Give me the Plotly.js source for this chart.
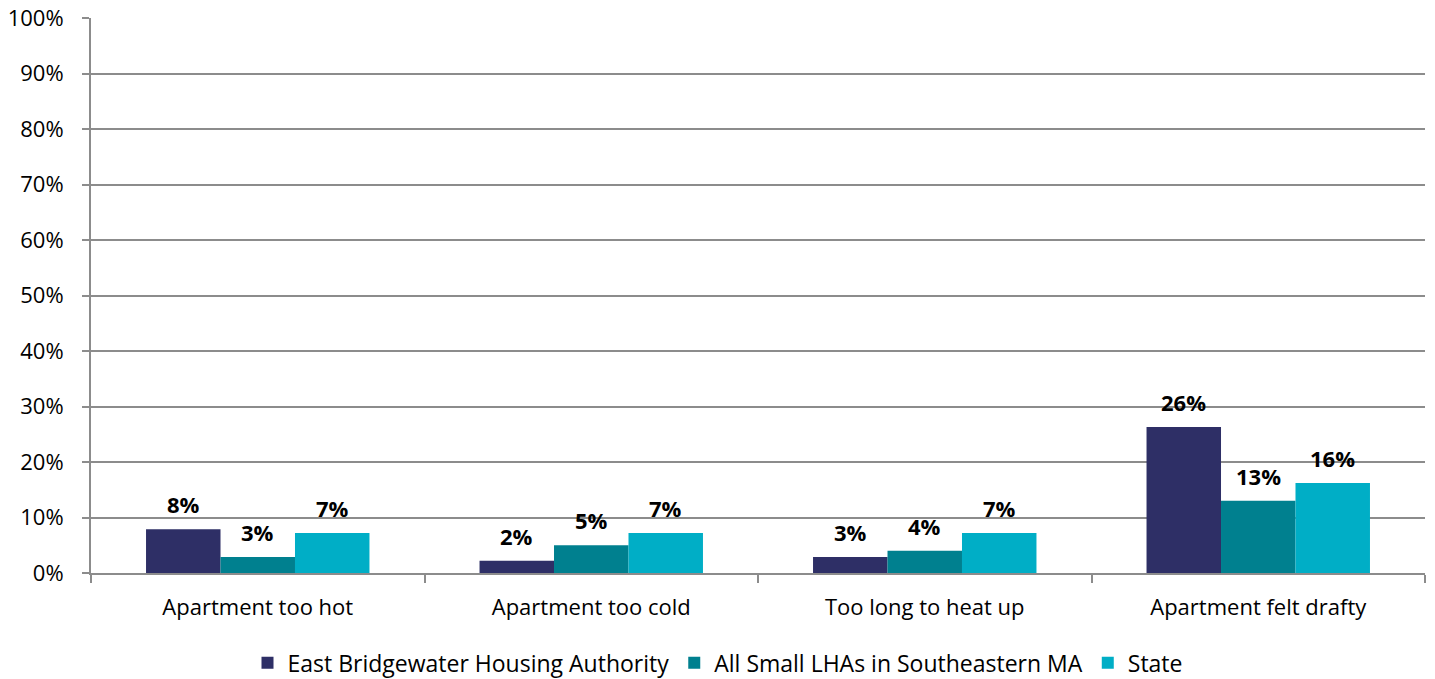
<!DOCTYPE html>
<html>
<head>
<meta charset="utf-8">
<script src="https://cdn.plot.ly/plotly-3.0.1.min.js"></script>
<style>html,body{margin:0;padding:0;background:#fff;}#chart{width:1435px;height:679px;}</style>
</head>
<body>
<div id="chart"></div>
<script>
const categories = ["Apartment too hot", "Apartment too cold", "Too long to heat up", "Apartment felt drafty"];
const seriesNames = ["East Bridgewater Housing Authority", "All Small LHAs in Southeastern MA", "State"];
const eastBridgewater = [0.079, 0.022, 0.029, 0.263];
const smallLHAs = [0.029, 0.050, 0.040, 0.130];
const state = [0.072, 0.072, 0.072, 0.162];
const colors = ["#2E2F66", "#00808F", "#00AEC6"];
const yTickVals = [0, 0.1, 0.2, 0.3, 0.4, 0.5, 0.6, 0.7, 0.8, 0.9, 1.0];

const seriesValues = [eastBridgewater, smallLHAs, state];
const font = "'Open Sans', sans-serif";
const bargap = 0.33;
const barW = (1 - bargap) / seriesValues.length;

const traces = seriesValues.map((vals, i) => ({
  type: "bar",
  name: seriesNames[i],
  x: categories,
  y: vals,
  marker: {color: colors[i]},
  hoverinfo: "x+y+name"
}));

const annotations = [];
seriesValues.forEach((vals, i) => {
  vals.forEach((v, j) => {
    annotations.push({
      x: j + (i - (seriesValues.length - 1) / 2) * barW,
      y: v, xref: "x", yref: "y",
      text: "<b>" + Math.round(v * 100) + "%</b>",
      showarrow: false, yanchor: "bottom", yshift: 8,
      font: {family: font, size: 22, color: "#000"}
    });
  });
});

const layout = {
  width: 1435, height: 679,
  margin: {l: 91, r: 10, t: 18, b: 106},
  paper_bgcolor: "#fff", plot_bgcolor: "#fff",
  barmode: "group",
  bargap: bargap,
  bargroupgap: 0,
  showlegend: true,
  annotations: annotations,
  legend: {orientation: "h", x: 0.5, xanchor: "center", xref: "container",
           y: 0.024, yanchor: "middle", yref: "container",
           font: {family: font, size: 23, color: "#000"}, traceorder: "normal"},
  xaxis: {
    showline: true, linecolor: "#8c8c8c", linewidth: 2,
    ticks: "outside", tickson: "boundaries", ticklen: 8, tickcolor: "#8c8c8c", tickwidth: 2,
    tickfont: {family: font, size: 22, color: "#000"},
    ticklabelstandoff: 14,
    showgrid: false, fixedrange: true
  },
  yaxis: {
    range: [0, 1], tickvals: yTickVals, tickformat: ".0%",
    showline: true, linecolor: "#8c8c8c", linewidth: 2,
    ticks: "outside", ticklen: 7, tickcolor: "#8c8c8c", tickwidth: 2,
    showgrid: true, gridcolor: "#8c8c8c", gridwidth: 2,
    zeroline: false,
    ticklabelstandoff: 14,
    tickfont: {family: font, size: 22, color: "#000"},
    fixedrange: true
  }
};

Plotly.newPlot("chart", traces, layout, {displayModeBar: false, staticPlot: true});
</script>
</body>
</html>
